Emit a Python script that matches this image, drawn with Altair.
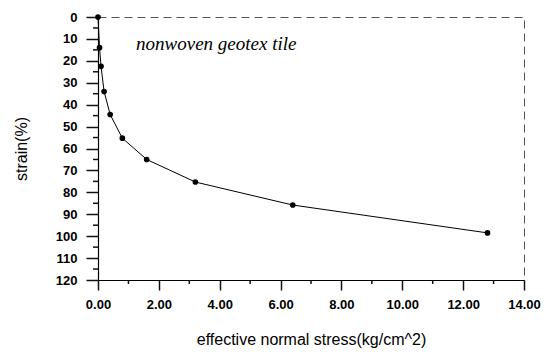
import altair as alt
import pandas as pd

# effective normal stress (kg/cm^2) and measured strain (%)
stress = [0.0, 0.05, 0.1, 0.2, 0.4, 0.8, 1.6, 3.2, 6.4, 12.8]
strain = [0.0, 14.0, 22.5, 34.0, 44.5, 55.3, 65.0, 75.3, 85.8, 98.5]

x_major = [0, 2, 4, 6, 8, 10, 12, 14]
x_minor = [1, 3, 5, 7, 9, 11, 13]
y_major = [0, 10, 20, 30, 40, 50, 60, 70, 80, 90, 100, 110, 120]
y_minor = [5, 15, 25, 35, 45, 55, 65, 75, 85, 95, 105, 115]

label_text = ["nonwoven geotex tile"]
label_x = [1.25]
label_y = [12.5]

df = pd.DataFrame({"stress": stress, "strain": strain})
lab = pd.DataFrame({"t": label_text, "stress": label_x, "strain": label_y})
xm = pd.DataFrame({"stress": x_minor})
ym = pd.DataFrame({"strain": y_minor})

x_scale = alt.Scale(domain=[0, 14], nice=False, zero=False)
y_scale = alt.Scale(domain=[0, 120], reverse=True, nice=False, zero=False)

x_axis = alt.Axis(
    values=x_major, format=".2f", title="effective normal stress(kg/cm^2)",
    tickSize=10, tickColor="#111111", tickWidth=1.5, labelPadding=8,
    labelFlush=False, grid=False, titlePadding=20,
    labelFontSize=13, labelColor="black", titleFontSize=16,
    titleFontWeight="normal", titleColor="black",
)
y_axis = alt.Axis(
    values=y_major, format="d", title="strain(%)",
    tickSize=12, tickColor="#111111", tickWidth=1.5, labelPadding=9,
    grid=False, titlePadding=26,
    labelFontSize=13, labelColor="black", titleFontSize=16,
    titleFontWeight="normal", titleColor="black",
)
x_enc = alt.X("stress:Q", scale=x_scale, axis=x_axis)
y_enc = alt.Y("strain:Q", scale=y_scale, axis=y_axis)

line = alt.Chart(df).mark_line(color="black", strokeWidth=1).encode(x=x_enc, y=y_enc)
pts = alt.Chart(df).mark_point(filled=True, color="black", size=32, opacity=1).encode(
    x=x_enc, y=y_enc
)

# short minor tick marks just outside the axes
x_minor_ticks = alt.Chart(xm).mark_rule(color="#111111", strokeWidth=1.5).encode(
    x=x_enc, y=alt.value(263), y2=alt.value(267)
)
y_minor_ticks = alt.Chart(ym).mark_rule(color="#111111", strokeWidth=1.5).encode(
    y=y_enc, x=alt.value(0), x2=alt.value(-5)
)

txt = alt.Chart(lab).mark_text(
    font="Liberation Serif", fontStyle="italic", fontSize=19, align="left",
    baseline="middle", color="black",
).encode(x=x_enc, y=y_enc, text="t:N")

chart = (
    alt.layer(line, pts, x_minor_ticks, y_minor_ticks, txt)
    .properties(
        width=426, height=263,
        autosize=alt.AutoSizeParams(type="none"),
        padding={"left": 98, "top": 17, "right": 22, "bottom": 72},
    )
    .configure_view(stroke="#555555", strokeDash=[8, 5], strokeWidth=1)
    .configure_axis(
        domainColor="black", domainWidth=1.2,
        labelFont="Liberation Sans", labelFontWeight="bold",
        titleFont="Liberation Sans",
    )
)

chart.save("out.html", embed_options={"renderer": "svg", "actions": False})
